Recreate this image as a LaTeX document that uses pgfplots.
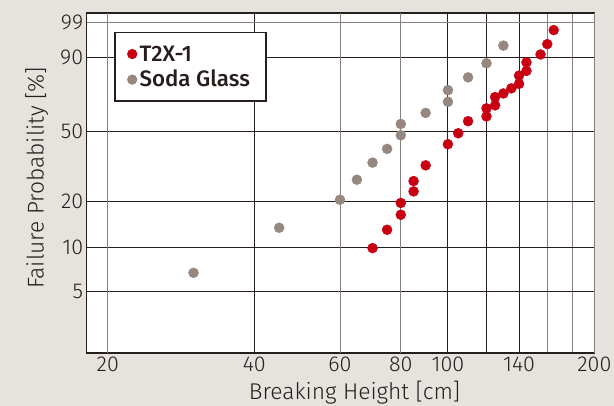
\documentclass[border=0pt]{standalone}
\usepackage{fontspec}
\setmainfont{Fira Sans}[UprightFont={* Light}, BoldFont={* Medium}]
\usepackage{pgfplots}
\pgfplotsset{compat=1.18}
\definecolor{bg}{RGB}{230,226,222}
\definecolor{frame}{RGB}{38,30,28}
\definecolor{gridgray}{RGB}{135,127,124}
\definecolor{t2x}{RGB}{200,0,18}
\definecolor{soda}{RGB}{150,135,127}

\begin{document}
\begin{tikzpicture}
\fill[bg] (0,0) rectangle (614bp,406bp);
\begin{axis}[
  at={(86.7bp,53bp)}, anchor=south west,
  width=507.7bp, height=340bp, scale only axis,
  axis background/.style={fill=white},
  axis line style={draw=frame, line width=1.5bp},
  xmode=log, xmin=18.1, xmax=200,
  y coord trafo/.code={\pgfmathparse{ln(-ln(1-#1/100))}},
  ymin=1.853, ymax=99.12,
  xtick={40,100,120,140}, xticklabels={40,100,,140},
  extra x ticks={20,60,80,200}, extra x tick labels={20,60,80,200},
  extra x tick style={major grid style={gridgray, line width=0.9bp}},
  minor xtick={160,180},
  ytick={5,10,20,50,90}, yticklabels={5,10,20,50,90},
  extra y ticks={98.25}, extra y tick labels={99},
  extra y tick style={major grid style={gridgray, line width=0.9bp}},
  xmajorgrids, xminorgrids, ymajorgrids,
  major grid style={frame, line width=0.9bp},
  minor grid style={gridgray, line width=0.9bp},
  major tick length=0pt, minor tick length=0pt,
  tick style={draw=none},
  /pgf/number format/assume math mode=true,
  tick label style={font=\fontsize{21.5bp}{25bp}\selectfont, text=frame},
  xticklabel style={yshift=-0.5bp},
  label style={font=\fontsize{22.8bp}{26bp}\selectfont, text=frame},
  xlabel={Breaking Height [cm]},
  ylabel={Failure Probability [\%]},
  xlabel style={xshift=14bp},
  ylabel style={xshift=5bp},
  xlabel shift=2bp,
  ylabel shift=5bp,
  legend style={at={(rel axis cs:0.054,0.944)}, anchor=north west,
    draw=frame, line width=1.4bp, fill=white,
    font=\fontsize{22.3bp}{26bp}\bfseries, text=frame,
    inner xsep=13bp, inner ysep=8.5bp, row sep=0bp,
    nodes={inner xsep=3bp, inner ysep=1bp, text height=19bp, text depth=4.6bp}},
  legend cell align=left,
  legend image post style={mark size=4.4bp},
]
\addplot[only marks, mark=*, mark size=5bp, color=t2x] coordinates {
(70,9.9) (75,13.1) (80,16.4) (80,19.5) (85,23.0) (85,26.6) (90,32.9)
(100,43.0) (105,48.9) (110,55.8) (120,58.6) (120,63.4) (125,65.2)
(125,70.1) (130,72.2) (135,75.1) (140,77.6) (140,81.9) (145,84.2)
(145,88.0) (155,91.0) (160,94.2) (165,97.2)
};
\addlegendentry{T2X-1}
\addplot[only marks, mark=*, mark size=5bp, color=soda] coordinates {
(30,6.75) (45,13.5) (60,20.4) (65,27.1) (70,34.1) (75,40.6) (80,47.8)
(80,54.2) (90,60.7) (100,67.3) (100,74.1) (110,81.0) (120,87.6) (130,93.8)
};
\addlegendentry{Soda Glass}
\end{axis}
\pgfresetboundingbox
\path (0,0) rectangle (614bp,406bp);
\end{tikzpicture}
\end{document}
